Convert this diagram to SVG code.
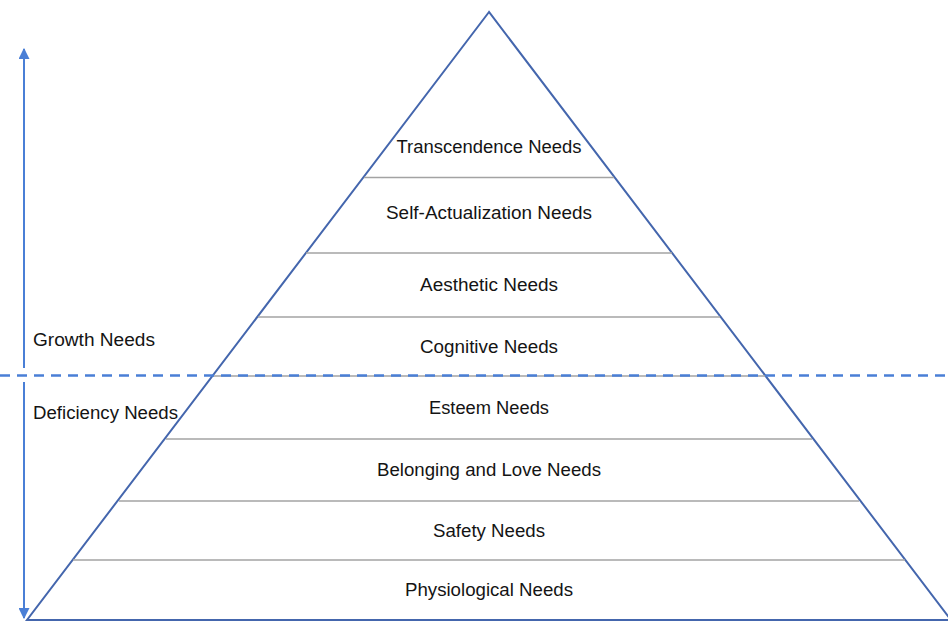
<svg xmlns="http://www.w3.org/2000/svg" width="948" height="622" viewBox="0 0 948 622">
<style>
.lbl{font-family:"Liberation Sans",Arial,sans-serif;font-size:17.5px;fill:#141414;}
.c{text-anchor:middle;}
.div{stroke:#a3a3a3;stroke-width:1.5;fill:none;}
.tri{stroke:#4466ad;stroke-width:2;fill:#ffffff;stroke-linejoin:miter;}
.ax{stroke:#4a7fd6;stroke-width:2;fill:none;}
</style>
<defs>
<marker id="ah" viewBox="0 0 10 10" refX="9" refY="5" markerWidth="5.5" markerHeight="5.5" orient="auto-start-reverse">
<path d="M0,0 L10,5 L0,10 z" fill="#4a7fd6"/>
</marker>
</defs>
<rect width="948" height="622" fill="#ffffff"/>
<g id="pyramid">
<polygon class="tri" points="489,12 27,620 951,620"/>
</g>
<g id="dividers">
<line class="div" x1="364" y1="177.5" x2="614" y2="177.5"/>
<line class="div" x1="306" y1="253" x2="672" y2="253"/>
<line class="div" x1="258" y1="317" x2="720" y2="317"/>
<line class="div" x1="213" y1="376" x2="765" y2="376"/>
<line class="div" x1="166" y1="439" x2="812" y2="439"/>
<line class="div" x1="119" y1="501" x2="859" y2="501"/>
<line class="div" x1="73" y1="560" x2="905" y2="560"/>
</g>
<g id="connectors">
<line class="ax" x1="24" y1="368" x2="24" y2="49" marker-end="url(#ah)"/>
<line class="ax" x1="24" y1="382" x2="24" y2="618" marker-end="url(#ah)"/>
<line x1="0" y1="375.5" x2="948" y2="375.5" stroke="#4a7fd6" stroke-width="2.5" stroke-dasharray="10,7"/>
</g>
<g id="level-transcendence"><text class="lbl c" x="489" y="153" textLength="185" lengthAdjust="spacingAndGlyphs">Transcendence Needs</text></g>
<g id="level-self-actualization"><text class="lbl c" x="489" y="219" textLength="206" lengthAdjust="spacingAndGlyphs">Self-Actualization Needs</text></g>
<g id="level-aesthetic"><text class="lbl c" x="489" y="291" textLength="138" lengthAdjust="spacingAndGlyphs">Aesthetic Needs</text></g>
<g id="level-cognitive"><text class="lbl c" x="489" y="353" textLength="138" lengthAdjust="spacingAndGlyphs">Cognitive Needs</text></g>
<g id="level-esteem"><text class="lbl c" x="489" y="414" textLength="120" lengthAdjust="spacingAndGlyphs">Esteem Needs</text></g>
<g id="level-belonging"><text class="lbl c" x="489" y="476" textLength="224" lengthAdjust="spacingAndGlyphs">Belonging and Love Needs</text></g>
<g id="level-safety"><text class="lbl c" x="489" y="537" textLength="112" lengthAdjust="spacingAndGlyphs">Safety Needs</text></g>
<g id="level-physiological"><text class="lbl c" x="489" y="596" textLength="168" lengthAdjust="spacingAndGlyphs">Physiological Needs</text></g>
<g id="growth-label"><text class="lbl" x="33" y="346" textLength="122" lengthAdjust="spacingAndGlyphs">Growth Needs</text></g>
<g id="deficiency-label"><text class="lbl" x="33" y="419" textLength="145" lengthAdjust="spacingAndGlyphs">Deficiency Needs</text></g>
</svg>
